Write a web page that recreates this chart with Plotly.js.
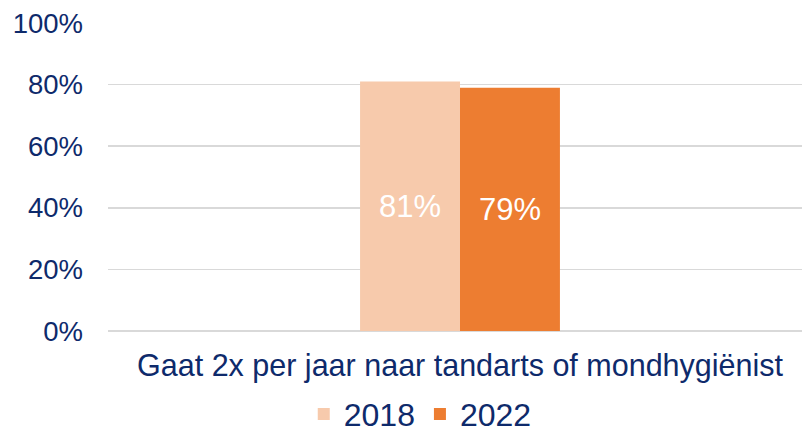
<!DOCTYPE html>
<html><head><meta charset="utf-8">
<script src="https://cdn.plot.ly/plotly-3.0.1.min.js"></script>
<style>html,body{margin:0;padding:0;overflow:hidden;background:#fff}</style>
</head><body><div id="chart" style="width:802px;height:436px"></div>
<script>
const categories = ["Gaat 2x per jaar naar tandarts of mondhygiënist"];
const years = ["2018", "2022"];
const values2018 = [81];
const values2022 = [79];
const colors = ["#F7CAAC", "#ED7D31"];
const textColor = "#0E2A6B";
const font = "Liberation Sans, Arial, sans-serif";

const series = [values2018, values2022];
const data = series.map((vals, i) => ({
  type: "bar",
  name: years[i],
  x: categories,
  y: vals,
  marker: {color: colors[i]},
  text: vals.map(v => v + "%"),
  textposition: "inside",
  insidetextanchor: "middle",
  textfont: {color: "#FFFFFF", size: 31, family: font},
  hoverinfo: "skip"
}));

const layout = {
  width: 802, height: 436,
  margin: {l: 108, r: 0, t: 23, b: 105, autoexpand: false},
  paper_bgcolor: "#fff", plot_bgcolor: "#fff",
  font: {family: font, color: textColor, size: 27},
  barmode: "group",
  bargap: 0.712, bargroupgap: 0,
  showlegend: true,
  legend: {orientation: "h", xref: "container", yref: "container", x: 0.524, xanchor: "center",
           y: 0.05, yanchor: "middle", tracegroupgap: 0,
           font: {size: 32, color: textColor}, traceorder: "normal"},
  xaxis: {type: "category", range: [-0.5072, 0.4928], showgrid: false, zeroline: false,
          showline: false, ticks: "", ticklabelstandoff: 13, tickfont: {size: 30.5, color: textColor}},
  yaxis: {range: [0, 100], dtick: 20, ticksuffix: "%", showgrid: true, gridcolor: "#D9D9D9",
          gridwidth: 1.5, zeroline: true, zerolinecolor: "#D9D9D9", zerolinewidth: 1.5,
          showline: false, ticks: "", ticklabelstandoff: 24, tickfont: {size: 27.5, color: textColor}}
};
Plotly.newPlot("chart", data, layout, {displayModeBar: false, staticPlot: true});
</script></body></html>
